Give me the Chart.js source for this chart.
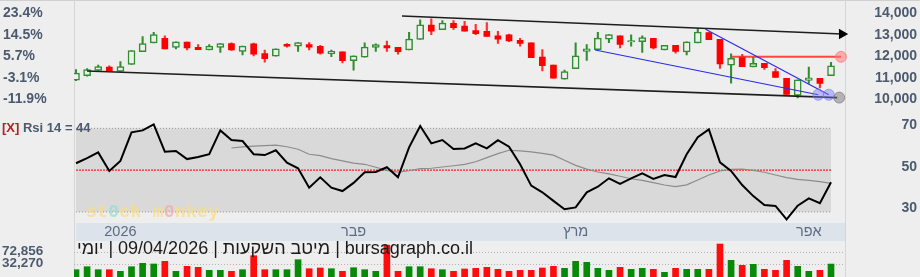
<!DOCTYPE html>
<html>
<head>
<meta charset="utf-8">
<script src="https://cdn.jsdelivr.net/npm/chart.js@4.4.1/dist/chart.umd.min.js"></script>
<style>
  html, body { margin: 0; padding: 0; }
  body { width: 920px; height: 277px; background: #eeeeee; position: relative; overflow: hidden;
         font-family: "Liberation Sans", Arial, sans-serif; }
  .abs { position: absolute; }
  #topline { left: 0; top: 0; width: 920px; height: 1px; background: #d0d0d0; }
  .vline { top: 0; width: 1px; height: 277px; background: #d6d6d6; }
  #dateband { left: 76px; top: 223px; width: 769px; height: 18px; background: #dde3ea; }
  #cPrice { left: 0; top: 0; }
  #cRsi { left: 0; top: 115px; }
  #cVol { left: 0; top: 241px; }
  #rsiLegend { left: 2px; top: 121px; font: bold 13px/13px "Liberation Sans", Arial, sans-serif; color: #4b5a6e; z-index: 5; }
  #rsiLegend span { color: #b22222; }
  #caption { left: 77px; top: 239px; font: 18px/18px "Liberation Sans", Arial, sans-serif; color: #1a1a1a;
             white-space: nowrap; z-index: 5; }
  .vlab { left: 2px; font: bold 13.5px/13.5px "Liberation Sans", Arial, sans-serif; color: #4b5a6e; z-index: 5; }
  #volMax { top: 244px; }
  #volLast { top: 256px; }
  #wm { left: 86px; top: 202px; font: bold 18px/20px "Liberation Mono", "DejaVu Sans Mono", monospace;
        color: rgba(250, 220, 130, 0.75); z-index: 5; letter-spacing: 0.3px; }
  #wm .a { color: rgba(140, 225, 205, 0.7); }
  #wm .b { color: rgba(245, 165, 165, 0.7); }
</style>
</head>
<body>
<div class="abs" id="topline"></div>
<div class="abs vline" style="left:74px"></div>
<div class="abs vline" style="left:845px"></div>
<div class="abs" id="dateband"></div>
<canvas class="abs" id="cPrice" width="920" height="115"></canvas>
<canvas class="abs" id="cRsi" width="920" height="126"></canvas>
<canvas class="abs" id="cVol" width="920" height="36"></canvas>
<div class="abs" id="rsiLegend"><span>[X]</span> <b id="rsiText"></b></div>
<div class="abs" id="wm">st<span class="a">0</span>ck m<span class="b">0</span>nkey</div>
<div class="abs" id="caption" dir="rtl">bursagraph.co.il | מיטב השקעות | 09/04/2026 | יומי</div>
<div class="abs vlab" id="volMax"></div>
<div class="abs vlab" id="volLast"></div>

<script>
// daily candles, 69 sessions
const opens = [
  10907, 11113, 11361, 11513, 11307, 11637, 12227, 12639, 12845, 12433,
  12680, 12433, 12309, 12433, 12610, 12239, 12598, 12144, 12021, 12569,
  12487, 12557, 12474, 12132, 12227, 11814, 11979, 12433, 12515, 12433,
  12309, 12804, 13464, 13258, 13546, 13423, 13216, 13175, 12969, 13010,
  12763, 12639, 11979, 11608, 10948, 11443, 12239, 12322, 12816, 12969,
  12680, 12693, 12845, 12309, 12528, 12214, 12639, 13122, 12804, 11608,
  11992, 11526, 11691, 11307, 10990, 10194, 10895, 10990, 11113
];
const highs = [
  11402, 11443, 11608, 11567, 11773, 12280, 12928, 13134, 12969, 12693,
  12680, 12557, 12557, 12610, 12639, 12487, 12627, 12309, 12363, 12610,
  12652, 12652, 12528, 12309, 12227, 12033, 12639, 12598, 12722, 12433,
  13134, 13711, 13753, 13670, 13670, 13641, 13505, 13588, 13175, 13052,
  12845, 12639, 12322, 11608, 11373, 12639, 12557, 13134, 13023, 12969,
  13010, 12969, 12845, 12528, 12528, 12693, 13311, 13122, 12804, 12132,
  12103, 11967, 11691, 11443, 10990, 10919, 11513, 10990, 11732
];
const lows = [
  10887, 11093, 11361, 11332, 11307, 11637, 12227, 12639, 12363, 12363,
  12309, 12322, 12309, 12198, 12289, 12074, 12033, 11744, 12021, 12445,
  12239, 12309, 12115, 11992, 11703, 11373, 11979, 12239, 12239, 12115,
  12309, 12804, 13023, 13258, 13270, 13188, 13023, 12940, 12610, 12693,
  12487, 11950, 11332, 11002, 10948, 11443, 11827, 12322, 12652, 12404,
  12487, 12198, 12363, 12309, 12157, 12074, 12639, 12792, 11456, 10771,
  11538, 11526, 11402, 11031, 10247, 10082, 10754, 10548, 11113
];
const closes = [
  11237, 11402, 11538, 11332, 11538, 12280, 12610, 13023, 12363, 12693,
  12404, 12322, 12487, 12610, 12309, 12487, 12115, 11909, 12363, 12487,
  12652, 12445, 12157, 12256, 11814, 12033, 12445, 12557, 12404, 12227,
  12816, 13476, 13188, 13559, 13340, 13188, 13064, 12940, 12816, 12734,
  12610, 11950, 11579, 11002, 11307, 12033, 12363, 12858, 13023, 12569,
  12750, 12887, 12404, 12528, 12239, 12693, 13146, 12792, 11662, 11926,
  11538, 11691, 11484, 11031, 10247, 10919, 11018, 10754, 11567
];
const volumes = [
  20845, 26916, 20845, 20845, 17607, 26916, 33797, 32380, 37845, 17607,
  27726, 25702, 19631, 19631, 17607, 20845, 49178, 20845, 20845, 20845,
  41083, 22869, 24285, 22869, 17607, 24893, 20845, 17607, 70500, 17607,
  26916, 26916, 22869, 20845, 17607, 22262, 23678, 25702, 21654, 17607,
  19631, 19631, 24285, 27726, 23678, 37845, 35821, 23678, 19631, 25702,
  21654, 23678, 21654, 15583, 23678, 21654, 21654, 21654, 72856, 39868,
  29750, 31773, 21654, 19631, 39868, 27726, 17607, 19631, 32270
];
const rsi = [
  53.3, 55.7, 58.5, 49.6, 54.4, 68.1, 69.0, 71.9, 58.8, 59.2,
  55.3, 56.3, 57.6, 69.0, 64.4, 63.9, 57.6, 57.2, 59.5, 53.6,
  50.9, 41.6, 46.6, 41.6, 40.0, 43.9, 49.0, 49.1, 51.4, 46.6,
  60.9, 71.1, 62.8, 64.4, 60.1, 60.4, 62.8, 60.4, 64.3, 61.2,
  52.8, 42.6, 39.4, 35.3, 31.3, 32.2, 39.4, 42.1, 46.1, 43.4,
  46.1, 48.5, 45.8, 47.7, 46.7, 57.6, 65.7, 69.5, 53.7, 49.6,
  42.9, 37.6, 33.3, 32.9, 26.5, 33.0, 36.5, 34.2, 44.2
];
// moving average of the rsi, starts at session 14
const rsiMaStart = 14;
const rsiMa = [
  60.6, 61.1, 61.5, 61.7, 62.0, 61.2, 60.0, 57.6, 56.9, 55.5,
  54.4, 53.4, 52.8, 51.4, 49.9, 49.1, 49.7, 50.7, 50.9, 51.5,
  52.1, 52.8, 54.0, 56.0, 57.9, 59.5, 59.2, 58.7, 58.0, 57.2,
  54.7, 52.3, 50.5, 49.1, 48.2, 47.1, 45.9, 45.1, 44.0, 42.9,
  42.1, 43.0, 45.3, 47.7, 49.6, 50.4, 50.5, 49.9, 49.0, 47.7,
  46.4, 45.6, 45.1, 44.5, 43.7
];

// drawn trend lines: [session index, price]
const trendTop = [[29.36, 13889], [68.99, 13052]];
const trendBottom = [[0.99, 11332], [68.56, 10095]];
const trendBlue1 = [[46.76, 12309], [66.85, 10227]];
const trendBlue2 = [[56.7, 13270], [67.8, 10227]];
const trendRed = [[59.0, 11992], [68.9, 11992]];
const handles = [[66.85, 10227], [67.8, 10227], [68.74, 10095], [68.9, 11992]];

const priceTicks = [10000, 11000, 12000, 13000, 14000];
const basePrice = 11349;
const rsiTicks = [30, 50, 70];
const rsiLevels = [70, 50, 30];
const monthIdx = [4, 25, 45, 66];
const monthLabels = ['2026', 'פבר', 'מרץ', 'אפר'];
const volGridLevels = [32270, 55250];

const FONT = '"Liberation Sans", Arial, sans-serif';
const AXIS_COLOR = '#4b5a6e';
const GREEN = '#2f8f2f';
const RED = '#ff0000';
const BG = '#eeeeee';
const xMin = -0.18, xMax = 69.26;

const n = closes.length;
const pts = arr => arr.map(p => ({x: p[0], y: p[1]}));

function fixWidth(w) {
    return function(scale) {
        scale.width = w;
        scale.paddingTop = 0;
        scale.paddingBottom = 0;
    };
}

// ---------- price panel ----------
var upBodies = [], downBodies = [], upWicks = [], downWicks = [];
for (var i = 0; i < n; i++) {
    if (closes[i] >= opens[i]) {
        upBodies.push({x: i, y: [opens[i], closes[i]]});
        upWicks.push({x: i, y: [lows[i], highs[i]]});
    } else {
        downBodies.push({x: i, y: [opens[i], closes[i]]});
        downWicks.push({x: i, y: [lows[i], highs[i]]});
    }
}

function trend(data, color, width, order) {
    return {
        type: 'line', data: pts(data), yAxisID: 'yR',
        borderColor: color, borderWidth: width,
        pointRadius: 0, fill: false, clip: false, order: order
    };
}

var topTrend = trend(trendTop, '#1e1e1e', 1.6, 3);
topTrend.pointRadius = [0, 4.5];
topTrend.pointStyle = 'triangle';
topTrend.pointRotation = 90;
topTrend.pointBackgroundColor = '#000';
topTrend.pointBorderColor = '#000';

new Chart(document.getElementById('cPrice'), {
    type: 'bar',
    data: {
        datasets: [
            {data: upWicks, yAxisID: 'yR', grouped: false, barThickness: 1.4, backgroundColor: GREEN, borderWidth: 0, order: 9},
            {data: downWicks, yAxisID: 'yR', grouped: false, barThickness: 1.5, backgroundColor: '#ff3030', borderWidth: 0, order: 9},
            {data: upBodies, yAxisID: 'yR', grouped: false, barThickness: 7, backgroundColor: BG,
             borderColor: GREEN, borderWidth: 1.5, borderSkipped: false, order: 8},
            {data: downBodies, yAxisID: 'yR', grouped: false, barThickness: 6, backgroundColor: RED,
             borderWidth: 0, order: 8},
            trend(trendBottom, '#1e1e1e', 1.6, 3),
            topTrend,
            trend(trendBlue1, '#2a2aee', 1.2, 3),
            trend(trendBlue2, '#2a2aee', 1.2, 3),
            trend(trendRed, 'rgba(255,40,40,0.85)', 2, 3),
            {
                type: 'line', data: pts(handles), yAxisID: 'yR', showLine: false, clip: false, order: 1,
                pointRadius: 5.5, pointBorderWidth: 1,
                pointBackgroundColor: ['rgba(120,120,255,0.45)', 'rgba(120,120,255,0.45)', 'rgba(120,120,120,0.5)', 'rgba(255,120,120,0.55)'],
                pointBorderColor: ['rgba(120,120,255,0.6)', 'rgba(120,120,255,0.6)', 'rgba(110,110,110,0.6)', 'rgba(255,120,120,0.7)']
            }
        ]
    },
    options: {
        responsive: false, animation: false, events: [],
        layout: {padding: {left: 3, right: 3, top: 0, bottom: 0}},
        plugins: {legend: {display: false}, tooltip: {enabled: false}},
        scales: {
            x: {type: 'linear', min: xMin, max: xMax, display: false, offset: false},
            yL: {
                position: 'left', min: 9588, max: 14330,
                afterBuildTicks: function(s) { s.ticks = priceTicks.map(v => ({value: v})); },
                afterFit: fixWidth(71),
                grid: {display: false, drawTicks: false}, border: {display: false},
                ticks: {
                    autoSkip: false, crossAlign: 'far', padding: 0, color: AXIS_COLOR,
                    font: {family: FONT, size: 14, weight: 'bold'},
                    callback: v => ((v / basePrice - 1) * 100).toFixed(1) + '%'
                }
            },
            yR: {
                position: 'right', min: 9588, max: 14330,
                afterBuildTicks: function(s) { s.ticks = priceTicks.map(v => ({value: v})); },
                afterFit: fixWidth(72),
                grid: {display: false, drawTicks: false}, border: {display: false},
                ticks: {
                    autoSkip: false, crossAlign: 'far', padding: 0, color: AXIS_COLOR,
                    font: {family: FONT, size: 14, weight: 'bold'},
                    callback: v => v.toLocaleString('en-US')
                }
            }
        }
    }
});

// ---------- rsi panel ----------
function level(v, color, dash, width, order) {
    return {
        type: 'line', data: [{x: 0, y: v}, {x: n - 1, y: v}],
        borderColor: color, borderDash: dash, borderWidth: width,
        pointRadius: 0, fill: false, order: order
    };
}
var band70 = level(rsiLevels[0], '#9a9a9a', [1, 2], 1, 10);
band70.fill = '+1';
band70.backgroundColor = '#d9d9d9';

new Chart(document.getElementById('cRsi'), {
    type: 'line',
    data: {
        datasets: [
            band70,
            level(rsiLevels[2], '#9a9a9a', [1, 2], 1, 9),
            level(rsiLevels[1], '#ff2020', [2, 1], 1.3, 8),
            {data: rsiMa.map((v, k) => ({x: k + rsiMaStart, y: v})), borderColor: '#8c8c8c', borderWidth: 1.2,
             pointRadius: 0, fill: false, order: 2},
            {data: rsi.map((v, k) => ({x: k, y: v})), borderColor: '#000', borderWidth: 2,
             pointRadius: 0, fill: false, order: 1}
        ]
    },
    options: {
        responsive: false, animation: false, events: [],
        layout: {padding: {left: 74, right: 3, top: 0, bottom: 0}},
        plugins: {legend: {display: false}, tooltip: {enabled: false}, filler: {drawTime: 'beforeDatasetsDraw'}},
        scales: {
            x: {
                type: 'linear', min: xMin, max: xMax, offset: false,
                afterBuildTicks: function(s) { s.ticks = monthIdx.map(v => ({value: v})); },
                afterFit: function(s) { s.height = 18; s.paddingLeft = 0; s.paddingRight = 0; },
                grid: {display: false, drawTicks: false}, border: {display: false},
                ticks: {
                    autoSkip: false, maxRotation: 0, padding: 0, color: '#5d6b80',
                    font: {family: FONT, size: 14.5},
                    callback: (v, k) => monthLabels[k]
                }
            },
            y: {
                position: 'right', min: 24.74, max: 76.36,
                afterBuildTicks: function(s) { s.ticks = rsiTicks.map(v => ({value: v})); },
                afterFit: fixWidth(72),
                grid: {display: false, drawTicks: false}, border: {display: false},
                ticks: {
                    autoSkip: false, crossAlign: 'far', padding: 0, labelOffset: -3.5, color: AXIS_COLOR,
                    font: {family: FONT, size: 14, weight: 'bold'}
                }
            }
        }
    }
});

// ---------- volume panel ----------
var volColors = volumes.map((v, k) => (k === 0 || closes[k] >= closes[k - 1]) ? '#078a07' : '#ff0d0d');

new Chart(document.getElementById('cVol'), {
    type: 'bar',
    data: {
        datasets: [{
            data: volumes.map((v, k) => ({x: k, y: v})),
            backgroundColor: volColors, borderWidth: 0, barThickness: 6, grouped: false
        }]
    },
    options: {
        responsive: false, animation: false, events: [],
        layout: {padding: {left: 74, right: 75, top: 0, bottom: 0}},
        plugins: {legend: {display: false}, tooltip: {enabled: false}},
        scales: {
            x: {type: 'linear', min: xMin, max: xMax, display: false, offset: false},
            y: {
                position: 'left', min: 6071, max: 78927,
                afterBuildTicks: function(s) { s.ticks = volGridLevels.map(v => ({value: v})); },
                afterFit: fixWidth(0),
                grid: {color: '#b4b4b4', drawTicks: false},
                border: {display: false, dash: [1, 2]},
                ticks: {display: false}
            }
        }
    }
});

// legends
document.getElementById('rsiText').textContent = 'Rsi 14 = ' + Math.round(rsi[n - 1]);
document.getElementById('volMax').textContent = Math.max.apply(null, volumes).toLocaleString('en-US');
document.getElementById('volLast').textContent = volumes[n - 1].toLocaleString('en-US');
</script>
</body>
</html>
